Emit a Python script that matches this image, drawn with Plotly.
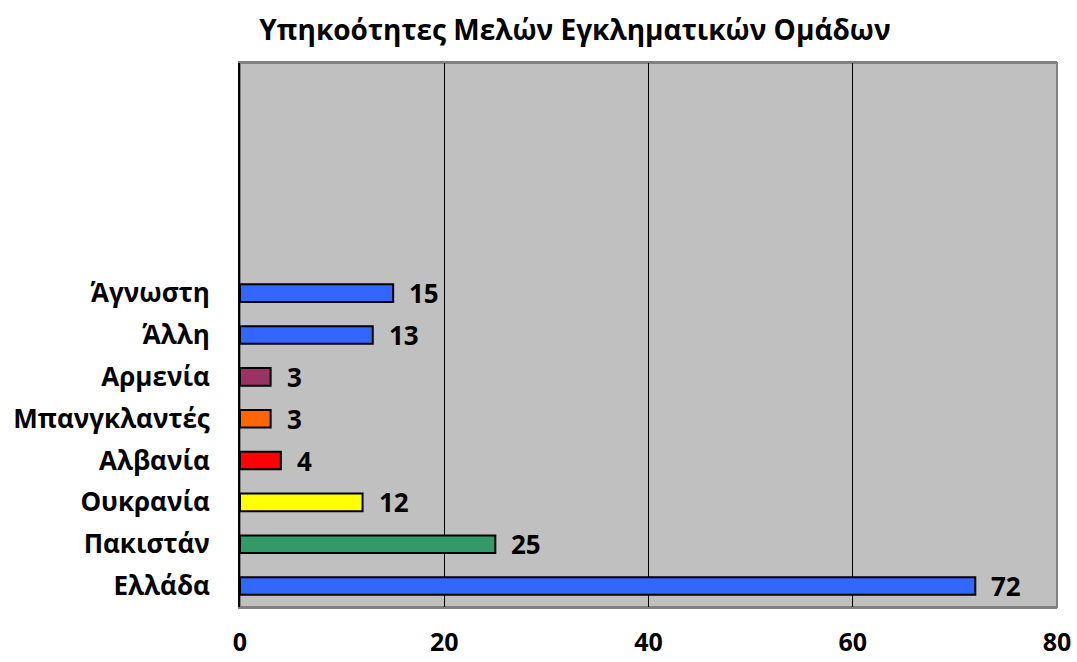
import plotly.graph_objects as go

# Nationalities of organised-crime group members
countries = ["Ελλάδα", "Πακιστάν", "Ουκρανία", "Αλβανία", "Μπανγκλαντές", "Αρμενία", "Άλλη", "Άγνωστη"]
members = [72, 25, 12, 4, 3, 3, 13, 15]
bar_colors = ["#3366FF", "#339966", "#FFFF00", "#FF0000", "#FF6600", "#993366", "#3366FF", "#3366FF"]
x_ticks = [0, 20, 40, 60, 80]
n_slots = 13  # axis keeps room for empty category slots above the bars

positions = list(range(len(countries)))
font_family = "'Open Sans', 'Noto Sans', sans-serif"

fig = go.Figure()
fig.add_trace(go.Bar(
    x=members,
    y=positions,
    orientation="h",
    width=0.42,
    marker=dict(color=bar_colors, line=dict(color="#000000", width=2)),
    hoverinfo="skip",
))

for pos, val in zip(positions, members):
    fig.add_annotation(
        x=val, y=pos, xref="x", yref="y",
        text=f"<b>{val}</b>", showarrow=False,
        xanchor="left", yanchor="middle", xshift=14,
        font=dict(family=font_family, size=26, color="#000000"),
    )

fig.update_layout(
    width=1077, height=662,
    margin=dict(l=240, r=20, t=63, b=55),
    paper_bgcolor="#FFFFFF",
    plot_bgcolor="#C0C0C0",
    showlegend=False,
    title=dict(
        text="<b>Υπηκοότητες Μελών Εγκληματικών Ομάδων</b>",
        x=575 / 1077, xanchor="center", xref="container",
        y=1 - 30 / 662, yanchor="middle", yref="container",
        font=dict(family=font_family, size=28, color="#000000"),
    ),
    xaxis=dict(
        range=[0, 80], tickvals=x_ticks,
        ticktext=[f"<b>{t}</b>" for t in x_ticks],
        showgrid=True, gridcolor="#000000", gridwidth=1,
        zeroline=False, showline=True, linecolor="#808080", linewidth=2, mirror=True,
        ticks="outside", ticklen=12, tickcolor="rgba(0,0,0,0)",
        tickfont=dict(family=font_family, size=25, color="#000000"),
        automargin=False,
    ),
    yaxis=dict(
        range=[-0.5, n_slots - 0.5], tickvals=positions,
        ticktext=[f"<b>{c}</b>" for c in countries],
        showgrid=False, zeroline=False,
        showline=True, linecolor="#000000", linewidth=2,
        ticks="outside", ticklen=23, tickcolor="rgba(0,0,0,0)",
        tickfont=dict(family=font_family, size=26, color="#000000"),
        automargin=False,
    ),
)

# gray frame around the plot area
fig.add_shape(type="rect", xref="paper", yref="paper", x0=0, x1=1, y0=0, y1=1,
              line=dict(color="#808080", width=2), layer="below")

fig.write_html("out.html")
